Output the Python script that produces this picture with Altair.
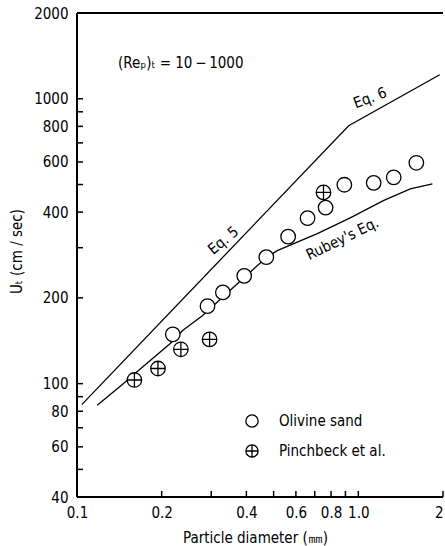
import altair as alt
import pandas as pd

# ---------------- data ----------------
eq_d = [0.104, 0.924, 1.947]          # Eq. 5 (to the kink) then Eq. 6
eq_u = [84.4, 804, 1214]

rubey_d = [0.118, 0.146, 0.165, 0.214, 0.238, 0.279, 0.393, 0.471, 0.515,
           0.715, 0.936, 1.227, 1.531, 1.834]
rubey_u = [84, 100, 111, 138, 154, 173, 236, 277, 293, 336, 382, 439, 483, 503]

olivine_d = [0.219, 0.291, 0.330, 0.393, 0.471, 0.563, 0.660, 0.765, 0.892,
             1.134, 1.336, 1.608]
olivine_u = [149, 187, 209, 239, 278, 328, 381, 415, 499, 507, 530, 596]

pinch_d = [0.160, 0.194, 0.234, 0.296, 0.752]
pinch_u = [103, 113, 132, 143, 469]

series_names = ["Olivine sand", "Pinchbeck et al."]

x_ticks = [0.1, 0.2, 0.3, 0.4, 0.5, 0.6, 0.7, 0.8, 0.9, 1, 2]
x_labeled = [0.1, 0.2, 0.4, 0.6, 0.8, 2]
y_ticks = [40, 50, 60, 70, 80, 90, 100, 200, 300, 400, 500, 600, 700, 800,
           900, 1000, 2000]
y_labeled = [40, 60, 80, 100, 200, 400, 600, 800, 1000, 2000]

# ---------------- tables ----------------
lines = pd.concat([
    pd.DataFrame({"d": eq_d, "u": eq_u, "series": "Eq", "order": range(len(eq_d))}),
    pd.DataFrame({"d": rubey_d, "u": rubey_u, "series": "Rubey", "order": range(len(rubey_d))}),
])
points = pd.concat([
    pd.DataFrame({"d": olivine_d, "u": olivine_u, "series": series_names[0]}),
    pd.DataFrame({"d": pinch_d, "u": pinch_u, "series": series_names[1]}),
])
xtick_df = pd.DataFrame({"d": x_ticks})
ytick_df = pd.DataFrame({"u": y_ticks})

FONT = "'DejaVu Sans Condensed', 'DejaVu Sans', sans-serif"
CROSS = "M-1,0A1,1,0,1,1,1,0A1,1,0,1,1,-1,0ZM-1,0L1,0M0,-1L0,1"
W, H = 366, 484

xscale = alt.Scale(type="log", domain=[0.1, 2], nice=False)
yscale = alt.Scale(type="log", domain=[40, 2000], nice=False)
shape_scale = alt.Scale(domain=series_names, range=["circle", CROSS])

x_expr = ("datum.value == 1 ? '1.0' : (indexof(%s, datum.value) >= 0 ? '' + datum.value : '')"
          % str(x_labeled))
y_expr = "indexof(%s, datum.value) >= 0 ? '' + datum.value : ''" % str(y_labeled)

x_axis = alt.Axis(values=x_ticks, labelExpr=x_expr, ticks=False,
                  domain=False, grid=False,
                  labelPadding=8, labelFontSize=15, labelColor="black",
                  labelFont=FONT, labelFlush=False, labelOverlap=False,
                  labelAlign={"condition": {"test": "datum.value == 2", "value": "right"},
                              "value": "center"},
                  title="Particle diameter   (㎜)", titleFont=FONT,
                  titleFontSize=15, titleFontWeight="normal", titleColor="black",
                  titleX=178, titleY=40, titleBaseline="middle")
y_axis = alt.Axis(values=y_ticks, labelExpr=y_expr, ticks=False,
                  domain=False, grid=False,
                  labelPadding=9, labelFontSize=15, labelColor="black",
                  labelFont=FONT, labelOverlap=False,
                  title="Uₜ    (cm / sec)", titleFont=FONT, titleFontSize=15,
                  titleFontWeight="normal", titleColor="black",
                  titleX=-61, titleY=238, titleBaseline="middle", titleAngle=270)

X = alt.X("d:Q", scale=xscale, axis=x_axis)
Y = alt.Y("u:Q", scale=yscale, axis=y_axis)

line_layer = alt.Chart(lines).mark_line(color="black", strokeWidth=1.3).encode(
    x=X, y=Y, detail="series:N", order="order:Q")

point_layer = alt.Chart(points).mark_point(
    filled=False, color="black", fill="white", fillOpacity=1, strokeWidth=1.3,
    size=210, opacity=1
).encode(
    x=X, y=Y,
    shape=alt.Shape("series:N", scale=shape_scale, legend=None),
)

# inside tick marks, drawn through the scales from the tick lists
ytick_layer = alt.Chart(ytick_df).mark_tick(
    orient="horizontal", color="black", thickness=1.5, size=6, opacity=1
).encode(y=Y, x=alt.value(3))
xtick_layer = alt.Chart(xtick_df).mark_tick(
    orient="vertical", color="black", thickness=1.5, size=6, opacity=1
).encode(x=X, y=alt.value(H - 3))

frame_top = alt.Chart().mark_rule(color="black", strokeWidth=2).encode(y=alt.datum(2000, scale=yscale))
frame_left = alt.Chart().mark_rule(color="black", strokeWidth=2).encode(x=alt.datum(0.1, scale=xscale))
frame_bottom = alt.Chart().mark_rule(color="black", strokeWidth=2).encode(y=alt.datum(40, scale=yscale))

# legend (symbol + label rows)
def legend_row(i, ypix):
    name = series_names[i]
    sym = alt.Chart().mark_point(
        shape=shape_scale.range[i], filled=False, color="black", fill="white",
        strokeWidth=1.3, size=150, opacity=1
    ).encode(x=alt.value(175), y=alt.value(ypix))
    txt = alt.Chart().mark_text(
        text=name, font=FONT, fontSize=15, color="black", align="left",
        baseline="middle"
    ).encode(x=alt.value(202), y=alt.value(ypix))
    return sym + txt

legend_layer = legend_row(0, 408) + legend_row(1, 438)

def label(text, d, u, angle, align="center"):
    return alt.Chart().mark_text(text=text, angle=angle, font=FONT, fontSize=15,
                                 color="black", align=align, baseline="middle").encode(
        x=alt.datum(d, scale=xscale), y=alt.datum(u, scale=yscale))

re_label = label("(Reₚ)ₜ = 10\u2009−\u20091000", 0.140, 1338, 0, align="left")
eq5_label = label("Eq. 5", 0.331, 318, 320)
eq6_label = label("Eq. 6", 1.10, 1008, 339)
rubey_label = label("Rubey's Eq.", 0.877, 323, 334)

chart = alt.layer(
    line_layer, point_layer, ytick_layer, xtick_layer,
    frame_top, frame_left, frame_bottom, legend_layer,
    re_label, eq5_label, eq6_label, rubey_label
).properties(
    width=W, height=H,
    autosize=alt.AutoSizeParams(type="none"),
    padding={"left": 77, "top": 13, "right": 2, "bottom": 49},
    background="white",
).configure_view(stroke=None)

chart.save("out.html", embed_options={"renderer": "svg", "actions": False})
